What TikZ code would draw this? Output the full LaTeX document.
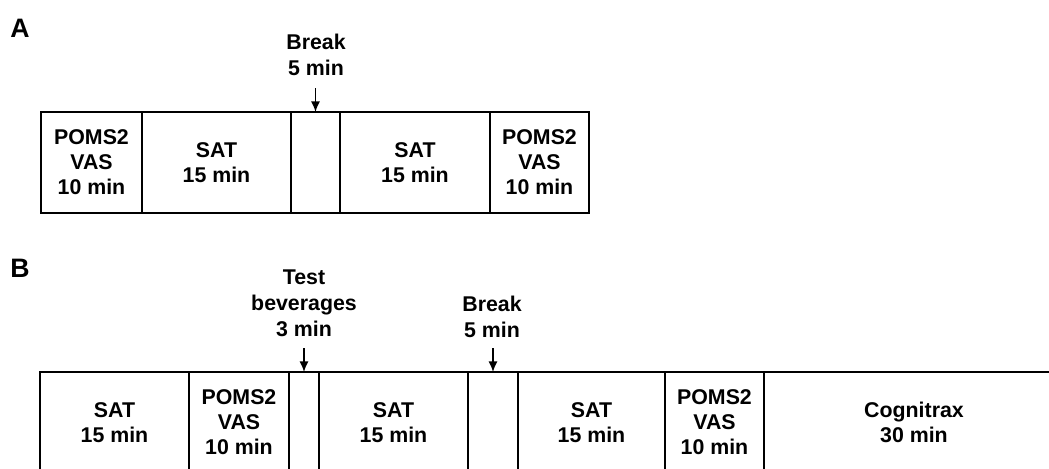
\documentclass[tikz,border=0pt]{standalone}
\usepackage{fontspec}
\setmainfont{Liberation Sans}
\usetikzlibrary{arrows.meta,positioning}

\begin{document}
\begin{tikzpicture}[
  x=0.75pt, y=-0.75pt,
  seg/.style={draw, line width=1.5pt, inner sep=0pt, outer sep=0pt,
    anchor=north west, minimum height=101*0.75pt, align=center,
    font=\fontsize{16}{18.8}\selectfont\bfseries},
  lbl/.style={align=center, font=\fontsize{16}{19.5}\selectfont\bfseries},
  panel/.style={font=\fontsize{20}{24}\selectfont\bfseries},
  arr/.style={-{Latex[length=8pt,width=7pt]}, line width=1.4pt},
]
  \clip (0,0) rectangle (1049,468);

  % Panel letters
  \node[panel] (pA) at (20,28) {A};
  \node[panel] (pB) at (20,268) {B};

  % Protocol A
  \foreach \n/\x/\w/\t in {a1/41/101/{POMS2\\VAS\\10 min}, a2/142/149/{SAT\\15 min},
    a3/291/49/{}, a4/340/150/{SAT\\15 min}, a5/490/99/{POMS2\\VAS\\10 min}} {
    \node[seg, minimum width=\w*0.75pt] (\n) at (\x,112) {\t};
  }

  % Protocol B
  \foreach \n/\x/\w/\t in {b1/40/149/{SAT\\15 min}, b2/189/100/{POMS2\\VAS\\10 min},
    b3/289/30/{}, b4/319/149/{SAT\\15 min}, b5/468/50/{},
    b6/518/147/{SAT\\15 min}, b7/665/99/{POMS2\\VAS\\10 min},
    b8/764/300/{Cognitrax\\30 min}} {
    \node[seg, minimum width=\w*0.75pt] (\n) at (\x,372) {\t};
  }

  % Labels and arrows
  \node[lbl] (brkA) at (316,55) {Break\\5 min};
  \node[lbl] (bev) at (304,303) {Test\\beverages\\3 min};
  \node[lbl] (brkB) at (492,316.5) {Break\\5 min};

  \draw[arr] ([yshift=18pt]a3.north) -- (a3.north);
  \draw[arr] ([yshift=18pt]b3.north) -- (b3.north);
  \draw[arr] ([yshift=18pt]b5.north) -- (b5.north);
\end{tikzpicture}
\end{document}
